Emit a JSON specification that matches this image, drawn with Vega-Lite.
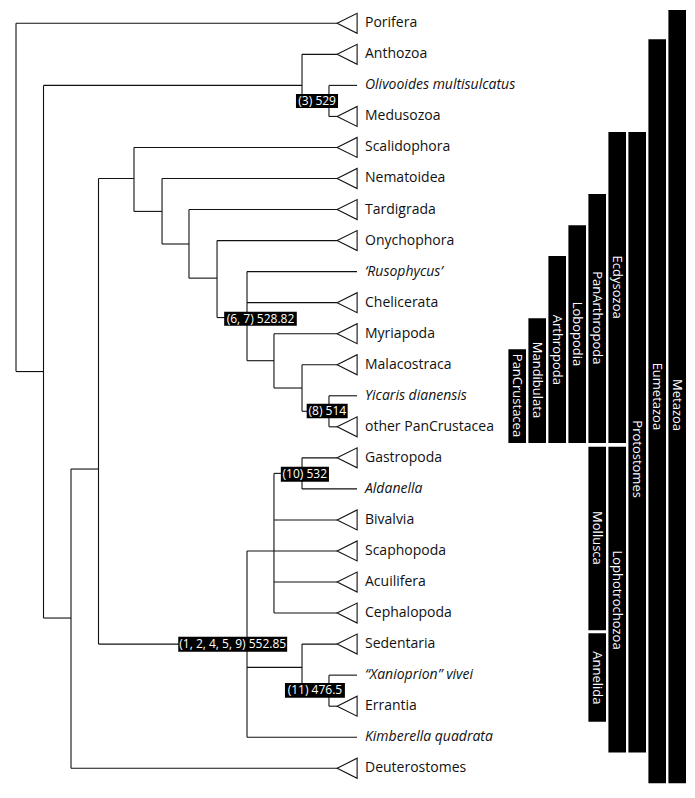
{
  "$schema": "https://vega.github.io/schema/vega-lite/v6.json",
  "width": 695,
  "height": 798,
  "autosize": {"type": "none"},
  "padding": 0,
  "background": "white",
  "config": {"view": {"stroke": null}, "font": "Open Sans"},
  "datasets": {
    "segs": [
      {"x":0,"x2":11.67,"y":0,"y2":0},
      {"x":0,"x2":0,"y":0,"y2":11.22},
      {"x":0,"x2":1,"y":11.22,"y2":11.22},
      {"x":1,"x2":1,"y":2,"y2":19.16},
      {"x":1,"x2":10.4,"y":2,"y2":2},
      {"x":10.4,"x2":10.4,"y":1,"y2":2.5},
      {"x":10.4,"x2":11.67,"y":1,"y2":1},
      {"x":10.4,"x2":11.38,"y":2.5,"y2":2.5},
      {"x":11.38,"x2":11.38,"y":2,"y2":3},
      {"x":11.38,"x2":12.4,"y":2,"y2":2},
      {"x":11.38,"x2":11.67,"y":3,"y2":3},
      {"x":1,"x2":2,"y":19.16,"y2":19.16},
      {"x":2,"x2":2,"y":14.36,"y2":24},
      {"x":2,"x2":11.67,"y":24,"y2":24},
      {"x":2,"x2":3,"y":14.36,"y2":14.36},
      {"x":3,"x2":3,"y":5,"y2":20},
      {"x":3,"x2":4.29,"y":5,"y2":5},
      {"x":4.29,"x2":4.29,"y":4,"y2":6.06},
      {"x":4.29,"x2":11.67,"y":4,"y2":4},
      {"x":4.29,"x2":5.31,"y":6.06,"y2":6.06},
      {"x":5.31,"x2":5.31,"y":5,"y2":7.11},
      {"x":5.31,"x2":11.67,"y":5,"y2":5},
      {"x":5.31,"x2":6.29,"y":7.11,"y2":7.11},
      {"x":6.29,"x2":6.29,"y":6,"y2":8.21},
      {"x":6.29,"x2":11.67,"y":6,"y2":6},
      {"x":6.29,"x2":7.31,"y":8.21,"y2":8.21},
      {"x":7.31,"x2":7.31,"y":7,"y2":9.48},
      {"x":7.31,"x2":11.67,"y":7,"y2":7},
      {"x":7.31,"x2":8.4,"y":9.48,"y2":9.48},
      {"x":8.4,"x2":8.4,"y":8,"y2":10.87},
      {"x":8.4,"x2":12.4,"y":8,"y2":8},
      {"x":8.4,"x2":11.67,"y":9,"y2":9},
      {"x":8.4,"x2":9.38,"y":10.87,"y2":10.87},
      {"x":9.38,"x2":9.38,"y":10,"y2":11.75},
      {"x":9.38,"x2":11.67,"y":10,"y2":10},
      {"x":9.38,"x2":10.4,"y":11.75,"y2":11.75},
      {"x":10.4,"x2":10.4,"y":11,"y2":12.5},
      {"x":10.4,"x2":11.67,"y":11,"y2":11},
      {"x":10.4,"x2":11.38,"y":12.5,"y2":12.5},
      {"x":11.38,"x2":11.38,"y":12,"y2":13},
      {"x":11.38,"x2":12.4,"y":12,"y2":12},
      {"x":11.38,"x2":11.67,"y":13,"y2":13},
      {"x":3,"x2":8.4,"y":20,"y2":20},
      {"x":8.4,"x2":8.4,"y":17,"y2":23},
      {"x":8.4,"x2":11.67,"y":17,"y2":17},
      {"x":9.38,"x2":9.38,"y":14.5,"y2":19},
      {"x":9.38,"x2":10.4,"y":14.5,"y2":14.5},
      {"x":10.4,"x2":10.4,"y":14,"y2":15},
      {"x":10.4,"x2":11.67,"y":14,"y2":14},
      {"x":10.4,"x2":12.4,"y":15,"y2":15},
      {"x":9.38,"x2":11.67,"y":16,"y2":16},
      {"x":9.38,"x2":11.67,"y":18,"y2":18},
      {"x":9.38,"x2":11.67,"y":19,"y2":19},
      {"x":8.4,"x2":10.4,"y":20.75,"y2":20.75},
      {"x":8.4,"x2":12.4,"y":23,"y2":23},
      {"x":10.4,"x2":10.4,"y":20,"y2":21.5},
      {"x":10.4,"x2":11.67,"y":20,"y2":20},
      {"x":10.4,"x2":11.38,"y":21.5,"y2":21.5},
      {"x":11.38,"x2":11.38,"y":21,"y2":22},
      {"x":11.38,"x2":12.4,"y":21,"y2":21},
      {"x":11.38,"x2":11.67,"y":22,"y2":22}
    ],
    "leaves": [
      {"name":"Porifera","i":0,"tri":true,"it":false},
      {"name":"Anthozoa","i":1,"tri":true,"it":false},
      {"name":"Olivooides multisulcatus","i":2,"tri":false,"it":true},
      {"name":"Medusozoa","i":3,"tri":true,"it":false},
      {"name":"Scalidophora","i":4,"tri":true,"it":false},
      {"name":"Nematoidea","i":5,"tri":true,"it":false},
      {"name":"Tardigrada","i":6,"tri":true,"it":false},
      {"name":"Onychophora","i":7,"tri":true,"it":false},
      {"name":"‘Rusophycus’","i":8,"tri":false,"it":true},
      {"name":"Chelicerata","i":9,"tri":true,"it":false},
      {"name":"Myriapoda","i":10,"tri":true,"it":false},
      {"name":"Malacostraca","i":11,"tri":true,"it":false},
      {"name":"Yicaris dianensis","i":12,"tri":false,"it":true},
      {"name":"other PanCrustacea","i":13,"tri":true,"it":false},
      {"name":"Gastropoda","i":14,"tri":true,"it":false},
      {"name":"Aldanella","i":15,"tri":false,"it":true},
      {"name":"Bivalvia","i":16,"tri":true,"it":false},
      {"name":"Scaphopoda","i":17,"tri":true,"it":false},
      {"name":"Acuilifera","i":18,"tri":true,"it":false},
      {"name":"Cephalopoda","i":19,"tri":true,"it":false},
      {"name":"Sedentaria","i":20,"tri":true,"it":false},
      {"name":"“Xanioprion” vivei","i":21,"tri":false,"it":true},
      {"name":"Errantia","i":22,"tri":true,"it":false},
      {"name":"Kimberella quadrata","i":23,"tri":false,"it":true},
      {"name":"Deuterostomes","i":24,"tri":true,"it":false}
    ],
    "nodes": [
      {"label":"(3) 529","x":10.18,"x2":11.71,"y":2.28,"y2":2.73,"cx":10.95,"cy":2.5},
      {"label":"(6, 7) 528.82","x":7.57,"x2":10.21,"y":9.29,"y2":9.74,"cx":8.89,"cy":9.52},
      {"label":"(8) 514","x":10.57,"x2":12.06,"y":12.26,"y2":12.72,"cx":11.32,"cy":12.49},
      {"label":"(10) 532","x":9.63,"x2":11.38,"y":14.29,"y2":14.77,"cx":10.5,"cy":14.53},
      {"label":"(1, 2, 4, 5, 9) 552.85","x":5.9,"x2":9.86,"y":19.76,"y2":20.25,"cx":7.88,"cy":20.0},
      {"label":"(11) 476.5","x":9.78,"x2":11.96,"y":21.25,"y2":21.73,"cx":10.87,"cy":21.49}
    ],
    "clades": [
      {"name":"PanCrustacea","col":0,"c0":-0.44,"c1":0.44,"top":10.5,"bot":13.52,"ly":11.99},
      {"name":"Mandibulata","col":1,"c0":0.56,"c1":1.44,"top":9.5,"bot":13.52,"ly":11.49},
      {"name":"Arthropoda","col":2,"c0":1.56,"c1":2.44,"top":7.5,"bot":13.52,"ly":10.52},
      {"name":"Lobopodia","col":3,"c0":2.56,"c1":3.44,"top":6.51,"bot":13.52,"ly":10.01},
      {"name":"PanArthropoda","col":4,"c0":3.56,"c1":4.44,"top":5.5,"bot":13.52,"ly":9.49},
      {"name":"Ecdysozoa","col":5,"c0":4.56,"c1":5.44,"top":3.5,"bot":13.52,"ly":8.5},
      {"name":"Protostomes","col":6,"c0":5.56,"c1":6.44,"top":3.5,"bot":23.49,"ly":14.04},
      {"name":"Eumetazoa","col":7,"c0":6.56,"c1":7.44,"top":0.51,"bot":24.48,"ly":12.02},
      {"name":"Metazoa","col":8,"c0":7.56,"c1":8.44,"top":-0.43,"bot":24.48,"ly":12.3},
      {"name":"Mollusca","col":4,"c0":3.56,"c1":4.44,"top":13.64,"bot":19.55,"ly":16.58},
      {"name":"Lophotrochozoa","col":5,"c0":4.56,"c1":5.44,"top":13.64,"bot":23.49,"ly":18.58},
      {"name":"Annelida","col":4,"c0":3.56,"c1":4.44,"top":19.65,"bot":22.5,"ly":21.09}
    ]
  },
  "layer": [
    {
      "layer": [
        {
          "data": {"name": "segs"},
          "mark": {"type": "rule", "color": "#111", "strokeWidth": 1.1},
          "encoding": {
            "x": {"field": "x", "type": "quantitative", "scale": {"domain": [-0.582, 24.69], "nice": false, "zero": false}, "axis": null},
            "x2": {"field": "x2"},
            "y": {"field": "y", "type": "quantitative", "scale": {"domain": [-0.7506, 24.958], "reverse": true, "nice": false, "zero": false}, "axis": null},
            "y2": {"field": "y2"}
          }
        },
        {
          "data": {"name": "leaves"},
          "transform": [{"filter": "datum.tri"}],
          "mark": {"type": "point", "shape": "M -1 0 L 1 -1 L 1 1 Z", "size": 400, "filled": true, "fill": "white", "stroke": "#111", "strokeWidth": 1.1, "opacity": 1},
          "encoding": {
            "x": {"datum": 12.04, "type": "quantitative"},
            "y": {"field": "i", "type": "quantitative"}
          }
        },
        {
          "data": {"name": "leaves"},
          "transform": [{"filter": "!datum.it"}],
          "mark": {"type": "text", "align": "left", "baseline": "middle", "fontSize": 14, "font": "Open Sans", "color": "#111"},
          "encoding": {
            "x": {"datum": 12.69, "type": "quantitative"},
            "y": {"field": "i", "type": "quantitative"},
            "text": {"field": "name"}
          }
        },
        {
          "data": {"name": "leaves"},
          "transform": [{"filter": "datum.it"}],
          "mark": {"type": "text", "align": "left", "baseline": "middle", "fontSize": 14, "font": "Open Sans", "fontStyle": "italic", "color": "#111"},
          "encoding": {
            "x": {"datum": 12.69, "type": "quantitative"},
            "y": {"field": "i", "type": "quantitative"},
            "text": {"field": "name"}
          }
        },
        {
          "data": {"name": "nodes"},
          "mark": {"type": "rect", "color": "black"},
          "encoding": {
            "x": {"field": "x", "type": "quantitative"},
            "x2": {"field": "x2"},
            "y": {"field": "y", "type": "quantitative"},
            "y2": {"field": "y2"}
          }
        },
        {
          "data": {"name": "nodes"},
          "mark": {"type": "text", "align": "center", "baseline": "middle", "fontSize": 12, "font": "Open Sans", "color": "white"},
          "encoding": {
            "x": {"field": "cx", "type": "quantitative"},
            "y": {"field": "cy", "type": "quantitative"},
            "text": {"field": "label"}
          }
        }
      ]
    },
    {
      "data": {"name": "clades"},
      "layer": [
        {
          "mark": {"type": "rect", "color": "black"},
          "encoding": {
            "x": {"field": "c0", "type": "quantitative", "scale": {"domain": [-25.86, 8.89], "nice": false, "zero": false}, "axis": null},
            "x2": {"field": "c1"},
            "y": {"field": "top", "type": "quantitative", "scale": {"domain": [-0.7506, 24.958], "reverse": true, "nice": false, "zero": false}, "axis": null},
            "y2": {"field": "bot"}
          }
        },
        {
          "mark": {"type": "text", "angle": 90, "align": "center", "baseline": "middle", "fontSize": 13, "font": "Open Sans", "color": "white"},
          "encoding": {
            "x": {"field": "col", "type": "quantitative"},
            "y": {"field": "ly", "type": "quantitative"},
            "text": {"field": "name"}
          }
        }
      ]
    }
  ],
  "resolve": {"scale": {"x": "independent"}}
}
